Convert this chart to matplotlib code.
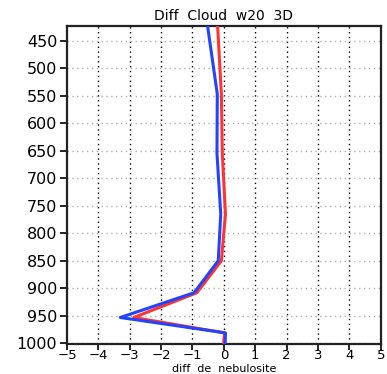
import matplotlib
matplotlib.use("Agg")
import matplotlib.pyplot as plt

# pressure levels (hPa) and cloud-cover differences for the two runs
levels = [1002, 981, 953, 908, 850, 765, 655, 547, 423]
diff_blue = [0.04, 0.05, -3.30, -0.95, -0.18, -0.10, -0.22, -0.21, -0.52]
diff_red = [-0.01, 0.02, -2.87, -0.86, -0.08, 0.05, -0.05, -0.08, -0.20]

xticks = [-5, -4, -3, -2, -1, 0, 1, 2, 3, 4, 5]
yticks = [450, 500, 550, 600, 650, 700, 750, 800, 850, 900, 950, 1000]

fig = plt.figure(figsize=(3.87, 3.74), dpi=100)
ax = fig.add_axes([0.173, 0.079, 0.811, 0.852])

# grid: dotted black verticals, dotted grey horizontals
for x in xticks[1:-1]:
    ax.axvline(x, color="black", linestyle=(0, (1, 2.5)), linewidth=1.0, zorder=1)
for y in yticks:
    ax.axhline(y, color="#b0b0b0", linestyle=(0, (1, 2.5)), linewidth=1.0, zorder=1)

ax.plot(diff_red, levels, color="#ff3333", linewidth=2.2, zorder=3)
ax.plot(diff_blue, levels, color="#2244ff", linewidth=2.2, zorder=4)

ax.set_xlim(-5, 5)
ax.set_ylim(1002, 423)
ax.set_xticks(xticks)
ax.set_yticks(yticks)
ax.tick_params(axis="y", direction="out", length=5, width=1.2, labelsize=11.5, pad=2)
ax.tick_params(axis="x", direction="out", length=4, width=1.2, labelsize=9.5, pad=-0.5)
for s in ax.spines.values():
    s.set_linewidth(1.6)
    s.set_color("#222222")

ax.set_title("Diff  Cloud  w20  3D", fontsize=10, pad=4)
fig.text(0.579, 0.0, "diff  de  nebulosite", fontsize=8, ha="center", va="bottom")

fig.savefig("out.png", dpi=100)
